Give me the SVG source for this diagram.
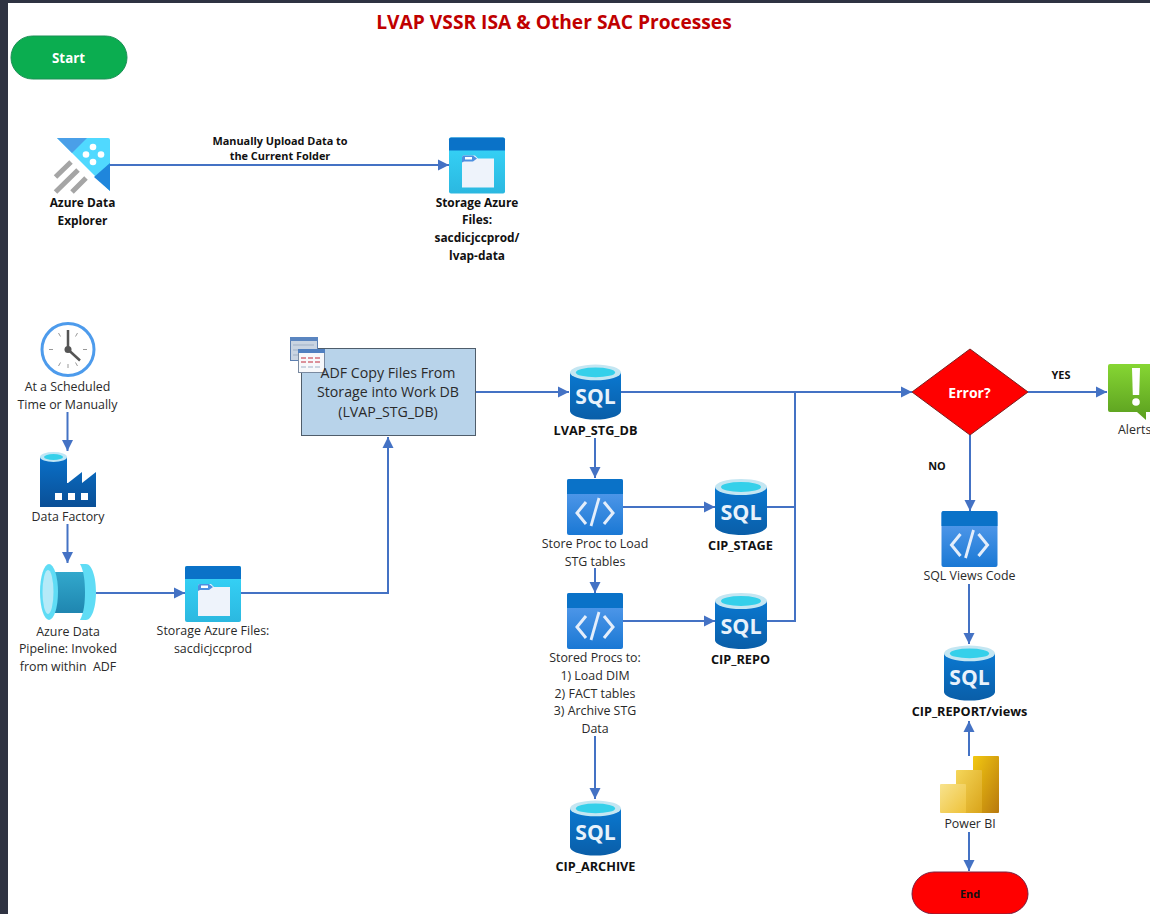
<svg xmlns="http://www.w3.org/2000/svg" width="1150" height="914" viewBox="0 0 1150 914">
<style>
text{font-family:"Open Sans","Noto Sans","Liberation Sans",sans-serif;fill:#2a2a2a;text-anchor:middle;dominant-baseline:central;font-size:12.4px;white-space:pre}
.b{font-weight:700;fill:#111;font-size:12.7px}
.s{font-weight:700;fill:#111;font-size:11.900px}
.l{font-weight:700;fill:#111;font-size:10.900px}
.w{font-weight:700;fill:#fff;font-size:14px}
.m{font-size:14.200px}
.c{fill:none;stroke:#4472c4;stroke-width:2}
.a{marker-end:url(#ah)}
</style>
<defs>
<marker id="ah" markerUnits="userSpaceOnUse" markerWidth="12" markerHeight="12" refX="11" refY="6" orient="auto"><path d="M0 0.500L11 6L0 11.500Z" fill="#4472c4"/></marker>
<linearGradient id="gStor" x1="0" y1="0" x2="0" y2="1"><stop offset="0" stop-color="#37d6fa"/><stop offset="1" stop-color="#2bb8e0"/></linearGradient>
<linearGradient id="gCode" x1="0" y1="0" x2="0" y2="1"><stop offset="0" stop-color="#5ea0ef"/><stop offset="1" stop-color="#1a78d4"/></linearGradient>
<linearGradient id="gSql" x1="0" y1="0" x2="0" y2="1"><stop offset="0" stop-color="#0a78d0"/><stop offset="1" stop-color="#0a5ea8"/></linearGradient>
<linearGradient id="gFac" x1="0" y1="0" x2="0" y2="1"><stop offset="0" stop-color="#0a70c8"/><stop offset="1" stop-color="#0a4f96"/></linearGradient>
<linearGradient id="gAl" x1="0" y1="0" x2="0" y2="1"><stop offset="0" stop-color="#86d633"/><stop offset="1" stop-color="#5a9e1f"/></linearGradient>
<linearGradient id="gPipe" x1="0" y1="0" x2="0" y2="1"><stop offset="0" stop-color="#32a8cc"/><stop offset="1" stop-color="#1f86b0"/></linearGradient>
<linearGradient id="p1" x1="0" y1="0" x2="1" y2="1"><stop offset="0" stop-color="#f2c811"/><stop offset="1" stop-color="#b8790e"/></linearGradient>
<linearGradient id="p2" x1="0" y1="0" x2="1" y2="1"><stop offset="0" stop-color="#f5d65a"/><stop offset="1" stop-color="#d9a41a"/></linearGradient>
<linearGradient id="p3" x1="0" y1="0" x2="1" y2="1"><stop offset="0" stop-color="#f8e38e"/><stop offset="1" stop-color="#eec23a"/></linearGradient>
<symbol id="sStor" viewBox="0 0 56 56" overflow="visible">
<rect width="56" height="56" rx="2" fill="url(#gStor)"/><path d="M0 13V2a2 2 0 0 1 2-2H54a2 2 0 0 1 2 2V13Z" fill="#0a72c8"/>
<path d="M13 20a2 2 0 0 1 2-2H26l3 3H45V50H13Z" fill="#eef3fb"/><path d="M13 25V20a2 2 0 0 1 2-2H24l4 3-4 3H15Z" fill="#4d8fe0"/><rect x="16" y="19.500" width="7" height="2.500" fill="#fff"/>
</symbol>
<symbol id="sCode" viewBox="0 0 56 56" overflow="visible">
<rect width="56" height="56" rx="2" fill="url(#gCode)"/><path d="M0 15V2a2 2 0 0 1 2-2H54a2 2 0 0 1 2 2V15Z" fill="#0a72c8"/>
<path d="M19 23L10 34L19 45M37 23L46 34L37 45" fill="none" stroke="#e4eefb" stroke-width="3"/><path d="M32 19L24 47" stroke="#e4eefb" stroke-width="2.800" fill="none"/>
</symbol>
<symbol id="sSql" viewBox="0 0 52 56" overflow="visible">
<path d="M0 8V47C0 52 12 56 26 56S52 52 52 47V8Z" fill="url(#gSql)"/>
<ellipse cx="26" cy="8" rx="26" ry="8" fill="#c4e6f2"/><ellipse cx="26" cy="8" rx="20" ry="5" fill="#35d0ea"/>
<text x="26" y="32" style="font-weight:700;font-size:21.500px;fill:#e8f2fb">SQL</text>
</symbol>
</defs>
<rect width="1150" height="914" fill="#fff"/>
<rect width="1150" height="3" fill="#2f3342"/><rect width="8" height="914" fill="#2f3342"/>
<text x="554" y="21.500" style="font-size:19.200px;font-weight:700;fill:#c00000">LVAP VSSR ISA &amp; Other SAC Processes</text>
<g id="connectors">
<path class="c a" d="M110 165H449"/>
<path class="c a" d="M67.500 412V451"/>
<path class="c a" d="M67.500 524V563"/>
<path class="c a" d="M96 593H185"/>
<path class="c a" d="M241 593H388V437"/>
<path class="c a" d="M476 392H569"/>
<path class="c a" d="M621 392H912"/>
<path class="c a" d="M595 438V478"/>
<path class="c a" d="M623 507H715"/>
<path class="c" d="M767 507H795V392"/>
<path class="c a" d="M595 568V593"/>
<path class="c a" d="M623 621H715"/>
<path class="c" d="M767 621H795V507"/>
<path class="c a" d="M595 736V799"/>
<path class="c a" d="M1028 392H1107"/>
<path class="c a" d="M970 435V511"/>
<path class="c a" d="M969 584V644"/>
<path class="c a" d="M969 756V721"/>
<path class="c a" d="M969 832V871"/>
</g>
<g id="edge-labels">
<text class="l" x="280" y="140">Manually Upload Data to</text>
<text class="l" x="280" y="155">the Current Folder</text>
<text class="l" x="1061" y="374">YES</text>
<text class="l" x="937" y="465">NO</text>
</g>
<g id="start"><rect x="11" y="36" width="116" height="43" rx="21.500" fill="#0bad50" stroke="#1b8f55" stroke-width="1"/><text class="w" x="68.500" y="57.500" style="font-size:13.300px">Start</text></g>
<g id="data-explorer">
<path d="M57 138H108a2 2 0 0 1 2 2V191Z" fill="#50d9ff"/>
<path d="M57 138H87L72 153Z" fill="#4a9fe8"/><path d="M110 163V191L94 177Z" fill="#1f86dc"/>
<g fill="#fff"><circle cx="93" cy="147" r="3.300"/><circle cx="86" cy="154.500" r="3.300"/><circle cx="101" cy="154.500" r="3.300"/><circle cx="93" cy="162" r="3.300"/></g>
<path d="M55.500 177L71 162M55.500 192L78 170M72 192L86 178" stroke="#a5a5a5" stroke-width="5" fill="none"/>
<text class="s" x="82.500" y="202">Azure Data</text><text class="s" x="82.500" y="220">Explorer</text>
</g>
<g id="storage-1"><use href="#sStor" x="449" y="137.500" width="56" height="56"/>
<text class="s" x="477" y="202">Storage Azure</text><text class="s" x="477" y="219">Files:</text><text class="s" x="477" y="237">sacdicjccprod/</text><text class="s" x="477" y="255">lvap-data</text></g>
<g id="schedule">
<circle cx="68" cy="349.500" r="26" fill="#fff" stroke="#4d9bec" stroke-width="3"/>
<path d="M68 331v4M68 364v4M49 349.500h4M83 349.500h4M58.500 333l2 3.500M77.500 333l-2 3.500M58.500 366l2-3.500M77.500 366l-2-3.500" stroke="#999" stroke-width="1"/>
<path d="M68 349.500V330M68 349.500L80 360.500" stroke="#555" stroke-width="2.500" fill="none"/><circle cx="68" cy="349.500" r="3.500" fill="#555"/>
<text x="67.500" y="386">At a Scheduled</text><text x="67.500" y="404">Time or Manually</text></g>
<g id="data-factory">
<path d="M40 457V507H96V472L82 483V472L68 483H67V457Z" fill="url(#gFac)"/>
<ellipse cx="53.500" cy="457" rx="13.500" ry="5" fill="#bfe6f5"/><ellipse cx="53.500" cy="457" rx="9.500" ry="3" fill="#35d0ea"/>
<path d="M55 493h7v7h-7zM68 493h7v7h-7zM81 493h7v7h-7z" fill="#fff"/>
<text x="68" y="516">Data Factory</text></g>
<g id="data-pipeline">
<rect x="50" y="572" width="36" height="41" fill="url(#gPipe)"/>
<path d="M80 564H86C92 564 96 577 96 592S92 620 86 620H80C84 613 85 602 85 592S84 571 80 564Z" fill="#5fdcf5"/>
<ellipse cx="49" cy="592" rx="9" ry="28" fill="#5fdcf5"/><ellipse cx="48" cy="592" rx="5.500" ry="22" fill="#b5eaf8"/>
<text x="68" y="631">Azure Data</text><text x="68" y="648">Pipeline: Invoked</text><text x="68" y="666">from within  ADF</text></g>
<g id="storage-2"><use href="#sStor" x="185" y="566" width="56" height="56"/>
<text x="213" y="630">Storage Azure Files:</text><text x="213" y="648">sacdicjccprod</text></g>
<g id="adf-copy">
<rect x="301.500" y="348.500" width="174" height="87" fill="#b8d3ea" stroke="#4f5d6b" stroke-width="1"/>
<rect x="290.500" y="337.500" width="27" height="23" fill="#c9d4e2" stroke="#5c7fb0"/><rect x="290" y="337" width="28" height="4" fill="#5a85c0"/>
<path d="M293 345h21M293 350h21M293 355h21" stroke="#9fb0c6"/>
<rect x="298.500" y="349.500" width="26" height="23" fill="#f7f8fb" stroke="#7a8aa0"/><rect x="298" y="349" width="27" height="4" fill="#4f7fc0"/>
<path d="M301 358h21M301 362h21" stroke="#c02a3a" stroke-dasharray="5 2"/><path d="M301 367h21" stroke="#9fb0c6" stroke-dasharray="5 2"/>
<text class="m" x="388" y="372">ADF Copy Files From</text><text class="m" x="388" y="391.500">Storage into Work DB</text><text class="m" x="388" y="411">(LVAP_STG_DB)</text></g>
<g id="lvap-stg-db"><use href="#sSql" x="570" y="364" width="51" height="56"/><text class="b" x="595.500" y="430">LVAP_STG_DB</text></g>
<g id="store-proc"><use href="#sCode" x="567" y="479" width="56" height="56"/><text x="595" y="543">Store Proc to Load</text><text x="595" y="561">STG tables</text></g>
<g id="cip-stage"><use href="#sSql" x="715" y="479" width="52" height="56"/><text class="b" x="740.500" y="545">CIP_STAGE</text></g>
<g id="stored-procs"><use href="#sCode" x="567" y="593" width="56" height="56"/><text x="595" y="657">Stored Procs to:</text><text x="595" y="675">1) Load DIM</text><text x="595" y="693">2) FACT tables</text><text x="595" y="710">3) Archive STG</text><text x="595" y="728">Data</text></g>
<g id="cip-repo"><use href="#sSql" x="715" y="593" width="52" height="56"/><text class="b" x="740.500" y="659">CIP_REPO</text></g>
<g id="cip-archive"><use href="#sSql" x="570" y="800" width="51" height="56"/><text class="b" x="595.500" y="866">CIP_ARCHIVE</text></g>
<g id="error"><path d="M970 349L1028 392L970 435L912 392Z" fill="#ff0000" stroke="#7a2020" stroke-width="1"/><text class="w" x="969.500" y="392">Error?</text></g>
<g id="alerts"><path d="M1110 364H1150V412H1146V420L1137 412H1110a2 2 0 0 1-2-2V366a2 2 0 0 1 2-2Z" fill="url(#gAl)"/>
<path d="M1132 368h8l-.800 27h-6.400Z" fill="#fff"/><circle cx="1136" cy="402" r="3.800" fill="#fff"/>
<text x="1118" y="429" style="text-anchor:start">Alerts</text></g>
<g id="sql-views"><use href="#sCode" x="941.500" y="511" width="56" height="56"/><text x="969.500" y="575">SQL Views Code</text></g>
<g id="cip-report"><use href="#sSql" x="944" y="645" width="51" height="56"/><text class="b" x="969.500" y="711">CIP_REPORT/views</text></g>
<g id="power-bi"><rect x="973" y="756" width="26" height="57" rx="1" fill="url(#p1)"/><rect x="956" y="770" width="26" height="43" rx="1" fill="url(#p2)"/><rect x="940" y="784" width="26" height="29" rx="1" fill="url(#p3)"/><text x="970" y="823">Power BI</text></g>
<g id="end"><path d="M934 872H1006A22 22 0 0 1 1028 894C1028 905 1018 914 1006 914H934C922 914 912 905 912 894A22 22 0 0 1 934 872Z" fill="#ff0000" stroke="#7a2040" stroke-width="1"/><text class="l" x="970" y="893">End</text></g>
</svg>
